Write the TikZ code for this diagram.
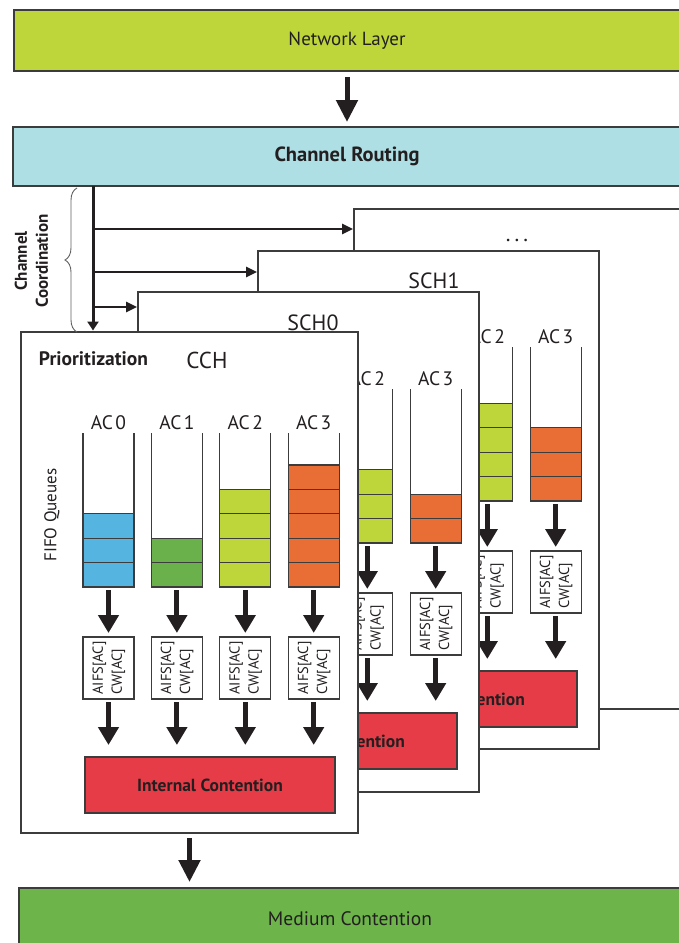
\documentclass[tikz,border=0pt]{standalone}
\usepackage{fontspec}
\setmainfont{PT Sans}
\usetikzlibrary{arrows.meta,decorations.pathreplacing,calc}
\definecolor{lime}{HTML}{BED63A}
\definecolor{routecyan}{HTML}{AEDFE4}
\definecolor{medgreen}{HTML}{6DB54B}
\definecolor{acblue}{HTML}{55B5E0}
\definecolor{acgreen}{HTML}{6AB04B}
\definecolor{aclime}{HTML}{BED63A}
\definecolor{acorange}{HTML}{E86E35}
\definecolor{icred}{HTML}{E63C47}
\definecolor{linegray}{HTML}{3C3C3C}
\definecolor{inkblack}{HTML}{231F20}
\definecolor{bracegray}{HTML}{606060}
\newcommand\fsz[2]{\fontsize{#1}{#2}\selectfont}

\tikzset{
  every node/.append style={text=inkblack, outer sep=0pt},
  layer/.style={draw=linegray, line width=1.3pt, inner sep=0pt, font=\fsz{19}{22}},
  panel/.style={draw=linegray, line width=1.3pt, fill=white, inner sep=0pt, anchor=north west},
  chlabel/.style={font=\fsz{22}{25}, inner sep=0pt},
  tubebox/.style={inner sep=0pt, minimum width=51pt, minimum height=154pt},
  tubeline/.style={draw=linegray, line width=1.3pt},
  cell/.style={draw=linegray, line width=1.1pt},
  aclabel/.style={font=\fsz{19.5}{22}, inner sep=0pt},
  aifs/.style={draw=linegray, line width=1.1pt, fill=white, minimum width=51pt, minimum height=62pt, inner sep=0pt, font=\fsz{14.5}{19}},
  icbox/.style={draw=linegray, line width=1.2pt, fill=icred, minimum width=250pt, minimum height=56pt, inner sep=0pt, font=\bfseries\fsz{17.5}{20}},
  colarrow/.style={draw=inkblack, line width=5pt, -{Triangle[length=18pt,width=20pt]}},
  bigarrow/.style={draw=inkblack, line width=5pt, -{Triangle[length=22pt,width=21pt]}},
  vlinearrow/.style={draw=inkblack, line width=3pt, -{Triangle[length=9pt,width=11pt]}},
  brancharrow/.style={draw=inkblack, line width=2.5pt, -{Triangle[length=11pt,width=10pt]}},
  bracestyle/.style={draw=bracegray, line width=0.9pt, decorate, decoration={brace, amplitude=12pt}}
}

\newcommand\drawchannel[7]{%
\begin{scope}[shift={(#2,#3)}]
  \node[icbox] (#1ic) at (210,785) {Internal Contention};
  \foreach \i/\cnt/\col in {0/#4/acblue,1/#5/acgreen,2/#6/aclime,3/#7/acorange}{
    \pgfmathsetmacro\xl{83+68.4*\i}
    \pgfmathsetmacro\xc{\xl+25.5}
    \node[tubebox] (#1t\i) at (\xc,510) {};
    \foreach \k in {1,...,\cnt}{
      \draw[cell,fill=\col] (\xl,{587-24.4*(\k-1)}) rectangle ({\xl+51},{587-24.4*\k});
    }
    \draw[tubeline] (#1t\i.north west) -- (#1t\i.south west) -- (#1t\i.south east) -- (#1t\i.north east);
    \node[aclabel] (#1l\i) at (\xc,423) {AC\hspace{2.5pt}\i};
    \node[aifs] (#1a\i) at (\xc,668) {\rotatebox{90}{\begin{tabular}{@{}l@{}}AIFS[AC]\\CW[AC]\end{tabular}}};
    \draw[colarrow, shorten <=3pt, shorten >=4pt] (#1t\i.south) -- (#1a\i.north);
    \draw[colarrow, shorten <=3pt, shorten >=12pt] (#1a\i.south) -- (#1a\i.south |- #1ic.north);
  }
\end{scope}}

\begin{document}
\begin{tikzpicture}[x=1pt,y=-1pt]
\useasboundingbox (0,0) rectangle (679,943);
\clip (0,0) rectangle (679,943);

% layers
\node[layer, fill=lime, minimum width=666pt, minimum height=61pt] (net) at (347,40.5) {Network Layer};
\node[layer, fill=routecyan, font=\bfseries\fsz{20.5}{23}, minimum width=668pt, minimum height=59pt] (route) at (347,156.5) {Channel Routing};
\node[layer, fill=medgreen, font=\fsz{19.5}{22}, minimum width=662pt, minimum height=62pt] (medium) at (350,919) {Medium Contention};
\draw[bigarrow, shorten <=6pt, shorten >=5pt] (net.south) -- (route.north);

% channel panels, back to front
\node[panel, minimum width=346pt, minimum height=500pt] (dots) at (354,209) {};
\node[chlabel] (dotslbl) at (517,240) {.\hspace{4pt}.\hspace{4pt}.};

\node[panel, minimum width=341pt, minimum height=498pt] (sch1) at (258,251) {};
\node[chlabel] (sch1lbl) at (434,281) {SCH1};
\drawchannel{sa}{242}{-86}{3}{2}{4}{3}

\node[panel, minimum width=341pt, minimum height=500pt] (sch0) at (138,292) {};
\node[chlabel] (sch0lbl) at (313,323) {SCH0};
\drawchannel{sb}{122}{-44}{2}{1}{3}{2}

\node[panel, minimum width=337pt, minimum height=501pt] (cch) at (21,332) {};
\node[chlabel, font=\fsz{23}{26}] (cchlbl) at (207,360) {CCH};
\node[font=\bfseries\fsz{19.5}{22}, inner sep=0pt] (prio) at (93.5,359) {Prioritization};
\node[rotate=90, font=\fsz{17}{20}, inner sep=0pt] (fifo) at (52,515) {FIFO Queues};
\drawchannel{cc}{0}{0}{3}{2}{4}{5}

\draw[bigarrow, shorten <=5pt, shorten >=6pt] (cch.south) -- (cch.south |- medium.north);

% channel coordination
\coordinate (vtop) at ([xshift=80pt]route.south west);
\draw[vlinearrow, shorten >=1.5pt] (vtop) -- (vtop |- cch.north);
\coordinate (b1) at ([yshift=-20pt]dots.north west);
\coordinate (b2) at ([yshift=-21pt]sch1.north west);
\coordinate (b3) at ([yshift=-15pt]sch0.north west);
\foreach \b in {b1,b2,b3}{
  \draw[brancharrow, shorten >=1pt] (vtop |- \b) -- (\b);
}
\coordinate (brtop) at (77,188);
\coordinate (brbot) at (77,332);
\draw[bracestyle] (brbot) -- (brtop);
\node[rotate=90, align=center, font=\bfseries\fsz{17}{21}, inner sep=0pt] (coord) at (31.5,261) {Channel\\Coordination};
\end{tikzpicture}
\end{document}
